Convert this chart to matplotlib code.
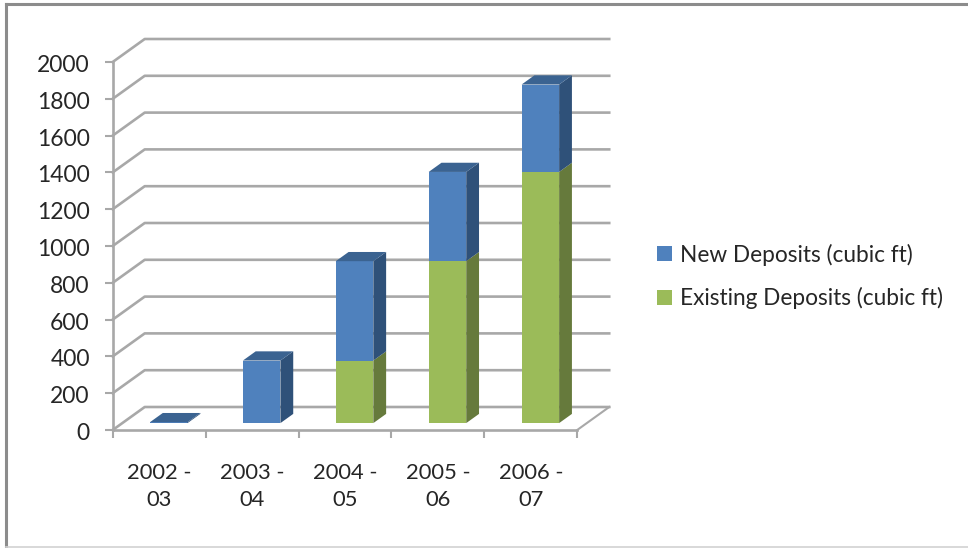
import matplotlib
matplotlib.use("Agg")
import matplotlib.pyplot as plt
from matplotlib.lines import Line2D
from matplotlib.patches import Patch, Polygon
from matplotlib.transforms import ScaledTranslation

categories = ["2002 -\n03", "2003 -\n04", "2004 -\n05", "2005 -\n06", "2006 -\n07"]
existing = [0, 0, 340, 880, 1365]
new = [5, 340, 540, 485, 475]
yticks = list(range(0, 2001, 200))

W, H = 968, 548
GRID = "#a8a8a8"
TEXT = "#262626"
BLUE, BLUE_TOP, BLUE_SIDE = "#4f81bd", "#3b6391", "#2f5179"
GREEN, GREEN_SIDE = "#9bbb59", "#667a3c"

# wall depth in data units
DX = 32 / 92.86
DY = 125
# bars sit inside the floor, between these depth fractions
D0, D1 = 0.3, 0.7
BAR_W = 0.404

plt.rcParams["font.family"] = ["Lato", "DejaVu Sans"]

fig = plt.figure(figsize=(W / 100, H / 100), dpi=100)
ax = fig.add_axes([112.7 / W, 1 - 430 / H, (577.2 - 112.7) / W, (430 - 62) / H])
ax.set_xlim(0, 5)
ax.set_ylim(0, 2000)
ax.patch.set_visible(False)


def project(x, y, d):
    return (x + d * DX, y + d * DY)


# walls and floor
for v in yticks:
    xs, ys = zip(project(0, v, 0), project(0, v, 1), project(5, v, 1))
    ax.plot(xs, ys, color=GRID, lw=1.9, clip_on=False, zorder=1)
xs, ys = zip(project(5, 0, 0), project(5, 0, 1))
ax.plot(xs, ys, color=GRID, lw=1.5, clip_on=False, zorder=1)


def draw_box(x, bottom, height, front, side):
    left = x - BAR_W / 2
    right = x + BAR_W / 2
    ax.bar(x + D0 * DX, height, BAR_W, bottom=bottom + D0 * DY, color=front, zorder=3, clip_on=False)
    top = bottom + height
    ax.add_patch(Polygon([project(right, bottom, D0), project(right, top, D0),
                          project(right, top, D1), project(right, bottom, D1)],
                         closed=True, fc=side, ec="none", zorder=3, clip_on=False))
    return left, right, top


for i in range(len(categories)):
    x = i + 0.5
    if existing[i] > 0:
        draw_box(x, 0, existing[i], GREEN, GREEN_SIDE)
    left, right, top = draw_box(x, existing[i], new[i], BLUE, BLUE_SIDE)
    ax.add_patch(Polygon([project(left, top, D0), project(right, top, D0),
                          project(right, top, D1), project(left, top, D1)],
                         closed=True, fc=BLUE_TOP, ec="none", zorder=3, clip_on=False))

# axes
for name in ["top", "right"]:
    ax.spines[name].set_visible(False)
for name in ["left", "bottom"]:
    ax.spines[name].set_color(GRID)
    ax.spines[name].set_linewidth(1.9)
    ax.spines[name].set_zorder(2)
ax.set_yticks(yticks)
ax.tick_params(axis="y", length=5.5, width=1.5, color=GRID, pad=11, labelsize=16.5, labelcolor=TEXT)
ax.set_xticks(range(len(categories) + 1))
ax.set_xticklabels([])
ax.set_xticks([i + 0.5 for i in range(len(categories))], categories, minor=True, linespacing=1.42)
ax.tick_params(axis="x", which="major", length=6, width=1.5, color=GRID)
ax.tick_params(axis="x", which="minor", length=0, pad=24, labelsize=15.8, labelcolor=TEXT)

# digits sit a little low in the original
nudge = ScaledTranslation(0, -1.5 / 100, fig.dpi_scale_trans)
for label in ax.get_yticklabels():
    label.set_transform(label.get_transform() + nudge)

handles = [Patch(facecolor=BLUE, label="New Deposits (cubic ft)"),
           Patch(facecolor=GREEN, label="Existing Deposits (cubic ft)")]
fig.legend(handles=handles, loc="center left", bbox_to_anchor=(657 / W, 1 - 276.5 / H),
           frameon=False, fontsize=16.3, labelcolor=TEXT, handlelength=0.65, handleheight=0.65,
           handletextpad=0.35, labelspacing=0.95, borderpad=0, borderaxespad=0)

# chart frame
frame = [([6, 6], [548, 4], "#8c8c8c", 2.2), ([6, 968], [4, 4], "#8c8c8c", 2.2),
         ([6, 968], [547, 547], "#d2d2d2", 1.2)]
for fx, fy, c, lw in frame:
    fig.add_artist(Line2D([v / W for v in fx], [1 - v / H for v in fy], color=c, lw=lw))

fig.savefig("out.png", dpi=100)
